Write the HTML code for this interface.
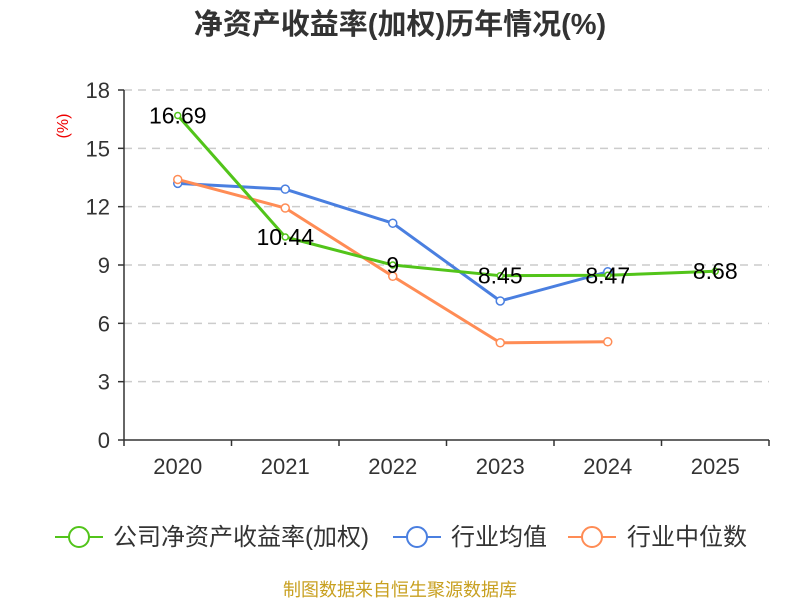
<!DOCTYPE html>
<html><head><meta charset="utf-8"><style>
body{margin:0;background:#fff;width:800px;height:600px;overflow:hidden;font-family:"Liberation Sans","Noto Sans CJK SC",sans-serif}
</style></head><body>
<svg id="c" width="800" height="600" style="font-family:'Liberation Sans','Noto Sans CJK SC',sans-serif">
<text x="400" y="34" text-anchor="middle" font-size="29" font-weight="bold" fill="#333">净资产收益率(加权)历年情况(%)</text>
<text transform="translate(68,126) rotate(-90)" text-anchor="middle" font-size="16" fill="#e00">(%)</text>
<g id="grid"></g><g id="axes"></g><g id="series"></g>
<g font-size="24" fill="#333">
<g><line x1="55" y1="537" x2="103" y2="537" stroke="#52c41a" stroke-width="2"/><circle cx="79" cy="537" r="10" fill="#fff" stroke="#52c41a" stroke-width="2"/><text x="113" y="545">公司净资产收益率(加权)</text></g>
<g><line x1="393" y1="537" x2="441" y2="537" stroke="#4a7fe0" stroke-width="2"/><circle cx="417" cy="537" r="10" fill="#fff" stroke="#4a7fe0" stroke-width="2"/><text x="451" y="545">行业均值</text></g>
<g><line x1="568" y1="537" x2="616" y2="537" stroke="#ff8c55" stroke-width="2"/><circle cx="592" cy="537" r="10" fill="#fff" stroke="#ff8c55" stroke-width="2"/><text x="627" y="545">行业中位数</text></g>
</g>
<text x="400" y="596" text-anchor="middle" font-size="18" fill="#c8a020">制图数据来自恒生聚源数据库</text>
</svg>
<script>
const categories=["2020","2021","2022","2023","2024","2025"];
const companyRoe=[16.69,10.44,9,8.45,8.47,8.68];
const industryAvg=[13.2,12.9,11.15,7.15,8.65,null];
const industryMedian=[13.4,11.93,8.42,5.0,5.05,null];
const yTicks=[0,3,6,9,12,15,18];
const NS="http://www.w3.org/2000/svg";
const L=124,R=769,T=90,B=440,yMax=18;
const x=i=>L+(R-L)/categories.length*(i+0.5);
const y=v=>B-(B-T)*v/yMax;
function mk(t,a,p){const e=document.createElementNS(NS,t);for(const k in a)e.setAttribute(k,a[k]);p.appendChild(e);return e;}
const grid=document.getElementById('grid'),axes=document.getElementById('axes'),ser=document.getElementById('series');
yTicks.forEach(v=>{
 if(v>0){const g=mk('line',{x1:L,x2:R,y1:y(v),y2:y(v),stroke:'#ccc','stroke-dasharray':'8,6','stroke-width':1.5},grid);
 
 }
 const tk=mk('line',{x1:L-6,x2:L,y1:y(v),y2:y(v),stroke:'#333','stroke-width':1.5},axes);
 
 
 const t=mk('text',{x:L-14,y:y(v)+8,'text-anchor':'end','font-size':22,fill:'#333'},axes);t.textContent=v;
 
 
});
const ya=mk('line',{x1:L,x2:L,y1:T,y2:B,stroke:'#333','stroke-width':1.5},axes);


const xa=mk('line',{x1:L,x2:R,y1:B,y2:B,stroke:'#333','stroke-width':1.5},axes);


for(let i=0;i<=categories.length;i++){const bx=L+(R-L)/categories.length*i;
 const tk=mk('line',{x1:bx,x2:bx,y1:B,y2:B+6,stroke:'#333','stroke-width':1.5},axes);
 
 }
categories.forEach((c,i)=>{const t=mk('text',{x:x(i),y:B+34,'text-anchor':'middle','font-size':22,fill:'#333'},axes);t.textContent=c;
 
 });
function series(data,color,name,r,labels){
 const g=mk('g',{},ser);
 
 
 const pts=data.map((v,i)=>v==null?null:[x(i),y(v)]).filter(p=>p);
 const pl=mk('polyline',{points:pts.map(p=>p.join(',')).join(' '),fill:'none',stroke:color,'stroke-width':3,'stroke-linejoin':'round'},g);
 
 
 data.forEach((v,i)=>{if(v==null)return;
  const c=mk('circle',{cx:x(i),cy:y(v),r:r,fill:'#fff',stroke:color,'stroke-width':1.5},g);
  
  
 });
 if(labels)data.forEach((v,i)=>{const t=mk('text',{x:x(i),y:y(v)+8,'text-anchor':'middle','font-size':23,fill:'#000'},g);t.textContent=v;
  
  });
}
series(industryAvg,'#4a7fe0','industry-avg-series',4,false);
series(industryMedian,'#ff8c55','industry-median-series',4,false);
series(companyRoe,'#52c41a','company-roe-series',3,true);
</script>
</body></html>
